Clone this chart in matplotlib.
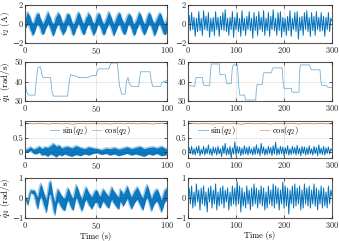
import numpy as np
import matplotlib
matplotlib.use("Agg")
import matplotlib.pyplot as plt

plt.rcParams['font.family'] = ['cmr10', 'DejaVu Serif']
plt.rcParams['mathtext.fontset'] = 'cm'
plt.rcParams['axes.formatter.use_mathtext'] = True

BLUE = '#0072BD'
ORANGE = '#D95319'

# ---------------- data ----------------
# left column (0-100 s) current i2 envelope, 113 samples
i2L_hi = [0.5, 0.9, 1.25, 1.0, 0.75, 0.3, 0.1, 0.2,
          0.65, 1.0, 1.15, 1.1, 0.6, 0.35, 0.0, 0.25,
          0.55, 0.95, 1.3, 0.95, 0.7, 0.25, 0.05, 0.15,
          0.7, 0.9, 1.2, 1.05, 0.8, 0.3, 0.1, 0.3,
          0.6, 1.05, 1.1, 1.0, 0.65, 0.2, 0.0, 0.2,
          0.5, 0.95, 1.25, 1.1, 0.7, 0.35, 0.05, 0.25,
          0.65, 0.85, 1.2, 0.95, 0.75, 0.3, 0.1, 0.15,
          0.6, 1.0, 1.15, 1.05, 0.6, 0.25, 0.0, 0.2,
          0.55, 0.9, 1.3, 1.0, 0.7, 0.3, 0.05, 0.3,
          0.7, 1.0, 1.2, 1.1, 0.65, 0.35, 0.1, 0.2,
          0.6, 0.95, 1.1, 0.95, 0.75, 0.2, 0.0, 0.25,
          0.5, 0.9, 1.25, 1.05, 0.7, 0.3, 0.05, 0.15,
          0.65, 1.05, 1.2, 1.0, 0.6, 0.25, 0.1, 0.3,
          0.6, 0.9, 1.15, 1.1, 0.7, 0.35, 0.0, 0.2,
          0.6]
i2L_lo = [-0.5, -0.3, 0.0, -0.1, -0.55, -0.85, -1.2, -1.0,
          -0.65, -0.2, -0.05, -0.2, -0.45, -0.95, -1.1, -0.95,
          -0.55, -0.3, 0.05, -0.15, -0.5, -0.9, -1.25, -1.05,
          -0.6, -0.25, -0.05, -0.1, -0.6, -0.85, -1.15, -0.9,
          -0.7, -0.2, 0.0, -0.2, -0.45, -0.95, -1.2, -1.0,
          -0.55, -0.3, 0.05, -0.15, -0.55, -0.9, -1.1, -1.05,
          -0.6, -0.25, -0.05, -0.1, -0.5, -0.85, -1.2, -0.95,
          -0.65, -0.2, 0.0, -0.2, -0.5, -0.95, -1.15, -1.0,
          -0.55, -0.3, 0.05, -0.15, -0.45, -0.9, -1.25, -0.9,
          -0.6, -0.25, -0.05, -0.1, -0.55, -0.85, -1.1, -1.05,
          -0.7, -0.2, 0.0, -0.2, -0.5, -0.95, -1.2, -1.0,
          -0.55, -0.3, 0.05, -0.15, -0.6, -0.9, -1.15, -0.95,
          -0.6, -0.25, -0.05, -0.1, -0.45, -0.85, -1.25, -1.0,
          -0.65, -0.2, 0.0, -0.2, -0.55, -0.95, -1.1, -1.05,
          -0.6]

# right column (0-300 s) current i2 samples
i2R = [0.2, 0.9, -0.7, 1.2, -0.6, 0.7, -1.3, 0.6, -0.8, 1.3, -0.7, 0.6, -1.2, 1.4, -0.6, 0.8,
       -0.7, 1.2, -1.4, 0.6, -0.8, 0.7, -1.2, 1.3, -0.6, 0.7, -1.3, 0.8, -0.6, 1.2, -0.7, 1.5,
       -0.8, 0.6, -1.2, 0.7, -0.6, 1.3, -1.4, 0.7, -0.6, 1.2, -0.8, 0.6, -1.3, 1.4, -0.7, 0.6,
       -1.2, 0.8, -0.6, 1.3, -0.7, 0.6, -1.5, 1.2, -0.7, 0.8, -1.2, 1.3, -0.6, 0.7, -0.8, 1.4,
       -1.2, 0.6, -0.7, 1.2, -1.3, 0.8, -0.6, 1.5, -0.7, 0.6, -1.2, 1.2, -0.7, 1.3, -1.4, 0.7,
       -0.8, 0.6, -1.2, 0.8, -0.7, 1.4, -1.3, 0.6, -0.6, 1.2, -0.8, 1.3, -1.6, 0.7, -0.7, 0.8,
       -1.2, 1.2, -0.6, 1.4, -0.8, 0.7, -1.3, 1.2, -0.7, 0.8, -1.2, 1.3, -0.6, 0.7, -0.8, 1.2,
       -0.7, 0.8, -1.3, 0.7, -0.6, 1.2, -0.8, 0.6, 0.3]

# joint speed q1 (piecewise reference tracking)
q1L_t = [0, 1, 2, 3, 7, 8, 9, 11, 11.8, 12.5, 18, 19, 20, 30, 31, 32, 35, 38, 44, 47, 50, 51,
         52, 59, 60, 61, 65, 66.5, 68, 70.5, 71.5, 72.5, 73.5, 75, 80, 80.8, 81.5, 88, 89, 90,
         95.5, 96.5, 97.5, 100]
q1L_v = [40, 35, 33.5, 33, 33, 41, 47, 47.5, 44, 42, 42, 35, 32.5, 32.5, 39, 43.5, 43, 42, 42,
         43, 43, 45.5, 46.5, 46.5, 48.5, 49.5, 49.5, 38, 33.5, 33.5, 40, 42, 39, 37.5, 37.5, 42,
         45, 45, 40, 37.5, 37.5, 39.5, 40, 40.5]
q1R_t = [0, 14, 15.5, 17, 30, 31.5, 33, 45, 47, 49, 65, 66, 67, 78, 79.5, 81, 90, 92, 94, 103,
         105.5, 108, 118, 119, 120, 141, 142.5, 144, 155, 156.5, 158, 174, 175.5, 177, 196, 198,
         200, 215, 216, 217, 231, 232.5, 234, 253, 255, 257, 275, 277, 279, 288, 290, 292, 300]
q1R_v = [38, 37.5, 40.5, 42, 42, 39.5, 38, 38, 46, 49, 49, 45, 43.5, 43.5, 40.5, 39, 39, 46,
         48.5, 48.5, 38, 33, 33, 31.5, 30.5, 30.5, 36, 38.5, 38.5, 43, 44.5, 44.5, 46.3, 47, 47,
         40, 36.5, 36.5, 35.2, 34.5, 34.5, 45, 48.5, 48.5, 47, 46, 46, 40, 38, 38, 37.3, 37, 37]

# sin(q2) / cos(q2)
sinL_t = [0, 2, 4, 6, 8, 10, 12, 14, 16, 18, 20, 22, 24, 26, 28, 30, 33, 36, 39, 42, 45, 48,
          51, 54, 57, 60, 63, 66, 69, 72, 75, 78, 81, 84, 87, 90, 93, 96, 100]
sinL_hi = [0.08, 0.12, 0.18, 0.10, 0.14, 0.20, 0.12, 0.18, 0.16, 0.22, 0.30, 0.20, 0.24, 0.14,
           0.18, 0.20, 0.14, 0.22, 0.16, 0.12, 0.18, 0.14, 0.12, 0.08, 0.14, 0.12, 0.16, 0.10,
           0.14, 0.18, 0.12, 0.16, 0.20, 0.12, 0.16, 0.18, 0.14, 0.20, 0.10]
sinL_lo = [0.02, 0.00, 0.06, -0.04, -0.06, 0.00, -0.10, -0.08, -0.14, -0.06, -0.10, -0.16,
           -0.08, -0.12, -0.06, -0.10, -0.14, -0.08, -0.12, -0.06, -0.10, -0.04, -0.02, -0.08,
           -0.04, -0.10, -0.06, -0.12, -0.08, -0.04, -0.10, -0.06, -0.10, -0.14, -0.06, -0.10,
           -0.04, -0.12, -0.08]
cosL = [0.99, 0.98, 0.97, 0.99, 0.98, 0.96, 0.99, 0.98, 0.97, 0.99, 0.95, 0.98, 0.99, 0.97,
        0.98, 0.99, 0.97, 0.98, 0.96, 0.99, 0.98, 0.97, 0.99, 0.98, 0.97, 0.99, 0.98, 0.96,
        0.99, 0.98, 0.99]
sinR = [0.05, 0.15, -0.05, 0.2, -0.08, 0.12, -0.1, 0.18, -0.04, 0.22, -0.12, 0.1, -0.06, 0.2,
        -0.1, 0.14, -0.05, 0.25, -0.08, 0.12, -0.12, 0.18, -0.04, 0.15, -0.1, 0.2, -0.06, 0.12,
        -0.15, 0.22, -0.05, 0.3, -0.1, 0.14, -0.08, 0.2, -0.2, 0.15, -0.06, 0.35, -0.1, 0.2,
        -0.05, 0.18, -0.12, 0.14, -0.08, 0.22, -0.06, 0.16, -0.1, 0.2, -0.05, 0.12, -0.1, 0.18,
        -0.08, 0.25, -0.06, 0.14, -0.12, 0.3, -0.05, 0.18, -0.1, 0.12, -0.08, 0.2, -0.05, 0.16,
        -0.12, 0.22, -0.06, 0.34, -0.1, 0.14, -0.08, 0.2, -0.05, 0.18, -0.12, 0.15, -0.06, 0.22,
        -0.1, 0.12, -0.08, 0.2, -0.05, 0.16, -0.1, 0.24, -0.06, 0.14, -0.12, 0.2, -0.05, 0.18,
        -0.1, 0.15, -0.08, 0.22, -0.06, 0.12, -0.1, 0.2, -0.05, 0.16, -0.12, 0.25, -0.06, 0.14,
        -0.08, 0.2, -0.1, 0.15, -0.05, 0.18, -0.06, 0.12, 0.05]
cosR = [0.98, 0.99, 0.97, 0.98, 0.99, 0.96, 0.98, 0.99, 0.97, 0.98, 0.99, 0.95, 0.98, 0.99,
        0.97, 0.98, 0.99, 0.96, 0.98, 0.99, 0.97, 0.98, 0.99, 0.96, 0.98, 0.99, 0.97, 0.98,
        0.99, 0.97, 0.98]

# joint speed q4, left envelope (1 s samples)
q4L_hi = [0.05, 0.0, -0.15, 0.2, 0.42, 0.38, 0.4, 0.35, 0.15, 0.05,
          0.45, 0.72, 0.55, 0.3, 0.1, -0.1, 0.3, 0.75, 0.85, 0.4,
          0.0, -0.2, 0.2, 0.45, 0.35, 0.2, 0.1, 0.0, 0.0, 0.25,
          0.5, 0.4, 0.2, 0.05, 0.0, 0.35, 0.65, 0.5, 0.3, 0.1,
          -0.05, 0.15, 0.4, 0.55, 0.4, 0.25, 0.15, 0.05, 0.2, 0.35,
          0.4, 0.35, 0.15, 0.1, 0.3, 0.45, 0.35, 0.25, 0.15, 0.1,
          0.35, 0.55, 0.4, 0.3, 0.2, 0.1, 0.05, 0.45, 0.35, 0.2,
          0.3, 0.45, 0.6, 0.4, 0.2, 0.05, 0.2, 0.35, 0.45, 0.55,
          0.4, 0.25, 0.1, 0.0, 0.25, 0.5, 0.65, 0.45, 0.2, -0.05,
          0.15, 0.3, 0.4, 0.45, 0.3, 0.1, -0.1, 0.1, 0.35, 0.45, 0.5]
q4L_lo = [-0.05, -0.2, -0.35, 0.0, 0.28, 0.22, 0.2, 0.0, -0.35, -0.55,
          -0.15, 0.1, -0.05, -0.3, -0.5, -0.72, -0.3, 0.15, 0.2, -0.2,
          -0.6, -0.85, -0.4, -0.15, -0.25, -0.4, -0.5, -0.6, -0.62, -0.35,
          -0.1, -0.2, -0.4, -0.55, -0.6, -0.25, 0.05, -0.1, -0.3, -0.5,
          -0.65, -0.45, -0.2, -0.05, -0.2, -0.35, -0.45, -0.55, -0.4, -0.25,
          -0.2, -0.25, -0.45, -0.5, -0.3, -0.15, -0.25, -0.35, -0.45, -0.5,
          -0.25, -0.05, -0.2, -0.3, -0.4, -0.5, -0.55, -0.15, -0.25, -0.4,
          -0.3, -0.15, 0.0, -0.2, -0.4, -0.55, -0.4, -0.25, -0.15, -0.05,
          -0.2, -0.35, -0.5, -0.6, -0.35, -0.1, 0.05, -0.15, -0.4, -0.65,
          -0.45, -0.3, -0.2, -0.15, -0.3, -0.5, -0.7, -0.5, -0.25, -0.15, -0.1]
q4R = [0.0, 0.5, -0.3, 0.6, -0.5, 0.3, -0.4, 0.7, -0.2, 0.4, -0.6, 0.5, -0.3, 0.6, -0.4, 0.3,
       -0.7, 0.5, -0.2, 0.6, -0.5, 0.4, -0.3, 0.7, -0.6, 0.3, -0.4, 0.5, -0.3, 0.6, -0.5, 0.4,
       -0.2, 0.5, -0.6, 0.3, -0.4, 0.6, -0.3, 0.5, -0.4, 0.8, -0.3, 0.6, -0.7, 0.5, -0.4, 0.3,
       -0.5, 0.6, -0.3, 0.4, -0.6, 0.5, -0.4, 0.7, -0.3, 0.5, -0.5, 0.4, -0.3, 0.6, -0.4, 0.5,
       -0.6, 0.3, -0.5, 0.6, -0.3, 0.4, -0.4, 0.7, -0.5, 0.6, -0.3, 0.5, -0.6, 0.4, -0.3, 0.8,
       -0.5, 0.6, -0.4, 0.5, -0.8, 0.4, -0.3, 0.6, -0.5, 0.7, -0.4, 0.5, -0.3, 0.6, -0.6, 0.4,
       -0.5, 0.7, -0.3, 0.5, -0.4, 0.6, -0.5, 0.4, -0.3, 0.7, -0.4, 0.5, -0.6, 0.4, -0.3, 0.6,
       -0.5, 0.5, -0.4, 0.3, -0.5, 0.6, -0.3, 0.4, 0.1]

xlims = [(0, 100), (0, 300)]
xticks = [[0, 50, 100], [0, 100, 200, 300]]
ylims = [(-2, 2), (30, 50), (-0.2, 1.07), (-1, 1)]
yticks = [[-2, 0, 2], [30, 40, 50], [0, 0.5, 1], [-1, 0, 1]]
ylabels = [r'$i_2$ (A)', r'$\dot{q}_1$ (rad/s)', None, r'$\dot{q}_4$ (rad/s)']

# ---------------- figure ----------------
fig = plt.figure(figsize=(3.39, 2.41), dpi=100)
W, H = 339, 241
cols = [(25, 167), (188, 332)]
rows = [(5, 43), (62, 101), (121, 158), (178, 218)]
axes = [[None, None] for _ in range(4)]
for r, (yt, yb) in enumerate(rows):
    for c, (xl, xr) in enumerate(cols):
        axes[r][c] = fig.add_axes([xl / W, 1 - yb / H, (xr - xl) / W, (yb - yt) / H])


def band(ax, t, hi, lo):
    ax.plot(t, hi, color=BLUE, lw=1.4, alpha=0.35)
    ax.plot(t, lo, color=BLUE, lw=1.4, alpha=0.35)
    ax.fill_between(t, lo, hi, color=BLUE, lw=0, alpha=0.95)


# row 1
band(axes[0][0], np.linspace(0, 100, len(i2L_hi)), i2L_hi, i2L_lo)
axes[0][1].plot(np.linspace(0, 300, len(i2R)), i2R, color=BLUE, lw=0.7)
# row 2
axes[1][0].plot(q1L_t, q1L_v, color=BLUE, lw=0.6, alpha=0.55)
axes[1][1].plot(q1R_t, q1R_v, color=BLUE, lw=0.6, alpha=0.55)
# row 3
legkw = dict(ncol=2, frameon=False, fontsize=6.2, loc='center left', handlelength=1.1,
             handletextpad=0.3, borderaxespad=0, borderpad=0)
ax = axes[2][0]
band(ax, sinL_t, sinL_hi, sinL_lo)
ax.plot(np.linspace(0, 100, len(cosL)), cosL, color=ORANGE, lw=0.6, alpha=0.6)
h1, = ax.plot([], [], color=BLUE, lw=0.7, alpha=0.45, label=r'$\sin(q_2)$')
h2, = ax.plot([], [], color=ORANGE, lw=0.7, alpha=0.45, label=r'$\cos(q_2)$')
ax.legend(handles=[h1, h2], bbox_to_anchor=(0.175, 0.73), columnspacing=0.5, **legkw)
ax = axes[2][1]
ax.plot(np.linspace(0, 300, len(sinR)), sinR, color=BLUE, lw=0.7)
ax.plot(np.linspace(0, 300, len(cosR)), cosR, color=ORANGE, lw=0.6, alpha=0.6)
h1, = ax.plot([], [], color=BLUE, lw=0.7, alpha=0.45, label=r'$\sin(q_2)$')
h2, = ax.plot([], [], color=ORANGE, lw=0.7, alpha=0.45, label=r'$\cos(q_2)$')
ax.legend(handles=[h1, h2], bbox_to_anchor=(0.07, 0.73), columnspacing=2.8, **legkw)
# row 4
band(axes[3][0], np.linspace(0, 100, len(q4L_hi)), q4L_hi, q4L_lo)
axes[3][1].plot(np.linspace(0, 300, len(q4R)), q4R, color=BLUE, lw=0.7)

for r in range(4):
    for c in range(2):
        ax = axes[r][c]
        ax.set_xlim(*xlims[c])
        ax.set_xticks(xticks[c])
        ax.set_ylim(*ylims[r])
        ax.set_yticks(yticks[r])
        ax.set_yticklabels([('%g' % v).replace('-', '\u2212') for v in yticks[r]])
        ax.grid(True, color='0.15', alpha=0.15, lw=0.5)
        ax.set_axisbelow(False)
        ax.tick_params(direction='in', length=2, width=0.5, top=True, right=True,
                       labelsize=6, pad=1.5, colors='0.15')
        for s in ax.spines.values():
            s.set_color('0.35')
            s.set_linewidth(0.8)
        if c == 0 and ylabels[r]:
            ax.set_ylabel(ylabels[r], fontsize=6.5, labelpad=1)
            ax.yaxis.set_label_coords(-0.09, 0.5)
        if r == 3:
            ax.set_xlabel('Time (s)', fontsize=6, labelpad=1)

fig.savefig('out.png', dpi=100)
